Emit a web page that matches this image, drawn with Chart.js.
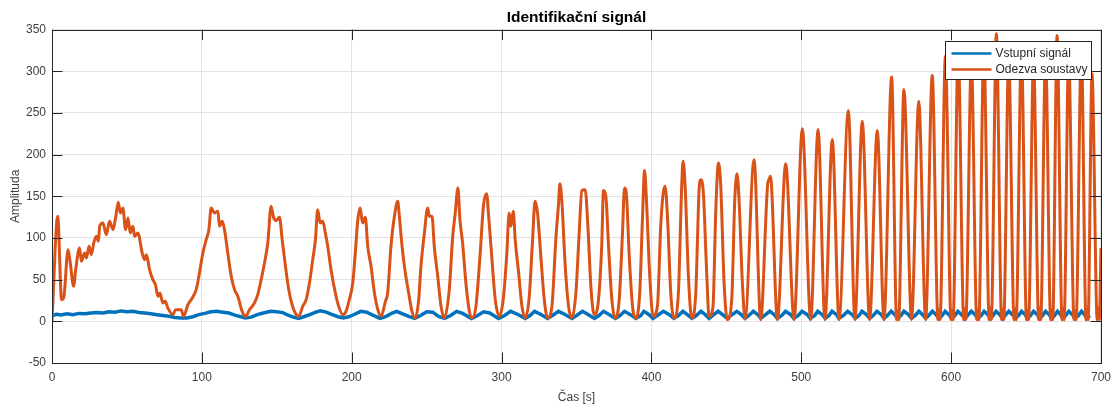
<!DOCTYPE html>
<html>
<head>
<meta charset="utf-8">
<title>Identifikační signál</title>
<script src="https://cdn.jsdelivr.net/npm/chart.js@4.4.1/dist/chart.umd.min.js"></script>
<style>
  html, body { margin: 0; padding: 0; background: #fff; }
  #wrap { width: 1118px; height: 407px; }
</style>
</head>
<body>
<div id="wrap"><canvas id="chart" width="1118" height="407"></canvas></div>
<script>
// values
const xTicks = [0, 100, 200, 300, 400, 500, 600, 700];
const yTicks = [-50, 0, 50, 100, 150, 200, 250, 300, 350];
const seriesNames = ["Vstupní signál", "Odezva soustavy"];

// input signal (blue)
const inputT = [0, 3, 6, 10, 14, 18, 22, 26, 30, 34, 38, 42, 46, 50, 54, 58, 62, 66, 70, 74, 78, 82, 86, 90, 94, 98,
  102, 106, 110, 114, 118, 122, 126, 129, 133, 137, 141, 146, 150, 154, 158, 161, 164.5, 168, 172, 176, 179, 183, 187, 191, 194.5, 198,
  202, 206, 210, 214, 219, 223, 227, 230, 234, 238, 242, 246, 250, 254, 258, 262, 266, 270, 274, 280, 284, 288, 292, 298,
  302, 306, 310, 315.8, 319, 322, 326, 330.7, 334, 338, 342, 347, 350, 354, 358, 362, 365, 368, 372, 376, 379, 382, 386, 389.6, 393, 395, 398.5,
  401, 404, 408, 412, 415, 418, 421, 424, 427, 430, 433, 436, 438.5, 441, 444.5, 447.5, 450.7, 453, 457, 460, 462.5, 465, 468, 471, 473, 475.5, 479, 482, 484, 487, 489.5, 493, 495, 498,
  500.5, 504, 506, 509, 511, 514, 516, 518.5, 520.5, 523.5, 525, 528, 531, 534, 536, 538.5, 540.5, 543.5, 545.6, 548, 550.5, 553.5, 555.2, 557.5, 560, 562.5, 564, 566.5, 568.5, 571.5, 573.6, 576, 578.5, 581, 583, 585, 587.5, 590, 591.8, 594, 596, 598.5,
  600.5, 602.5, 604.5, 607, 609, 611, 613.5, 616, 617.7, 620, 622, 624.5, 626, 628, 630, 632.5, 634.3, 636, 638.5, 641, 642.6, 645, 647, 649.5, 650.9, 653, 655, 657.5, 659, 661, 663, 665.5, 667, 669, 671, 673, 674.6, 676.5, 678.5, 681, 682.6, 685, 687, 689, 690.6, 692.5, 694, 696.5, 698, 700];
const inputY = [7, 8.5, 7.5, 9, 8, 9.5, 9, 10, 10.5, 10, 11.5, 11, 12.5, 11.5, 12, 10.5, 10, 9, 8, 7, 6, 4.5, 4, 4, 5.5, 8,
  9.5, 11.5, 12, 11, 10, 7.5, 5.5, 4, 5, 8, 10, 12, 11.5, 10.5, 7, 5, 3.5, 5.5, 8, 11, 12.5, 11, 8, 5.5, 4, 5.5,
  8.5, 12, 11, 7.5, 3.5, 6, 10, 12, 9, 6, 3.5, 7, 11.5, 11, 6, 3.5, 7, 12, 9.5, 3.5, 7, 11.5, 10, 3.5,
  7, 12, 9, 3.5, 7, 12, 8.5, 3.5, 7, 12, 8.5, 3.5, 7, 12, 8, 3.5, 7, 12, 8, 3.5, 7, 12, 8, 3.5, 7, 12, 8,
  3.5, 7, 12, 8, 3.5, 7, 12, 8, 3.5, 7, 12, 8, 3.5, 7, 12, 8, 3.5, 7, 12, 8, 3.5, 7, 12, 8, 3.5, 7, 12, 8, 3.5, 7, 12, 8, 3.5, 7,
  12, 8, 3.5, 7, 12, 8, 3.5, 7, 12, 8, 3.5, 7, 12, 8, 3.5, 7, 12, 8, 3.5, 7, 12, 8, 3.5, 7, 12, 8, 3.5, 7, 12, 8, 3.5, 7, 12, 8, 3.5, 7, 12, 8,
  3.5, 7, 12, 8, 3.5, 7, 12, 8, 3.5, 7, 12, 8, 3.5, 7, 12, 8, 3.5, 7, 12, 8, 3.5, 7, 12, 8, 3.5, 7, 12, 8, 3.5, 7, 12, 8, 3.5, 7, 12, 8, 3.5, 7, 12, 8, 3.5, 7, 12, 8, 3.5, 7, 12, 8, 3.5, 7];

// system response (orange)
const responseT = [0, 3.8, 6.4, 7.8, 10.7, 12.2, 14.4, 15.8, 18.4, 19.6, 21.8, 23, 24.7, 26.2, 28, 29.6, 31, 31.8, 34, 36.2, 38.4, 40.7, 42.5, 44.2, 45.6, 47.3, 49.1, 50.7, 52.2, 54, 55.1, 57.3,
  60.2, 61.8, 63, 65.1, 67.3, 69, 70.7, 72, 74, 75.5, 77.3, 80.7, 82.4, 84.5, 86.2, 87.8, 90.7, 93.6, 96.2, 98,
  100.7, 102.9, 104.7, 106.2, 108.4, 110.7, 111.8, 113.6, 115.1, 117.3, 119.6, 121.8, 124, 126.9, 129.1, 131.8, 135.1, 137.3, 139.6, 141.8, 144, 146.2, 147.8, 149.6,
  151.8, 153.6, 155.8, 158, 160.2, 162.9, 164.7, 167.3, 169.6, 171.8, 174, 175.8, 177.3, 178.9, 180.7, 182.4, 184, 186.2, 189.1, 191.3, 194, 196.2, 198.4,
  200.7, 202.4, 204, 205.6, 207.3, 209.1, 210.7, 212.9, 215, 217.4, 219.6, 222.5, 224, 226.2, 228.5, 230.7, 231.8, 233.6, 235.8, 238, 240.2, 242.5, 244.7, 246.2, 248.5,
  250.7, 251.8, 253.6, 255.1, 257.4, 259.6, 261.8, 265.1, 267.4, 269.1, 270.9, 272.2, 274, 276.2, 278.5, 280.2, 282.9, 285.6, 288, 290, 291.4, 293.6, 295.8, 298.5,
  301.1, 303.4, 305.1, 306.2, 307.8, 309.1, 311.4, 313.6, 315.8, 318.5, 320.7, 322.3, 324, 326.2, 328.5, 330.7, 333.6, 336.2, 338, 338.9, 340.2, 342.5, 344.7, 346.9, 349.6,
  351.8, 353.6, 355.8, 357.6, 359.6, 361.8, 364.7, 366.9, 368, 369.6, 371.4, 373.6, 375.8, 378.5, 380.7, 382, 383.4, 385.1, 387.4, 389.6, 392.2, 394, 395.4, 396.7, 398.9,
  401.1, 404, 406.2, 407.8, 409.1, 410.7, 412.9, 415.1, 418, 420.2, 421.1, 422.5, 424.7, 426.9, 429.6, 431.8, 432.9, 434.7, 436.7, 438.5, 441.1, 442.9, 444.7, 446.2, 448.5,
  450.7, 453.6, 455.6, 457.1, 458.5, 460.7, 462.5, 468.5, 472.9, 477.6, 478.4, 479.4, 484.1, 489.6, 495.2,
  500.7, 506.3, 511.2, 515.8, 520.7, 525.2, 531.4, 535.8, 540.7, 545.6, 550.7, 555.2, 560.3, 563.6, 564.3, 565, 568.5, 573.6, 578.4, 583, 587.4, 591.2, 591.9, 592.6, 596.2,
  599.9, 600.6, 601.3, 604.7, 608.4, 609.1, 609.8, 613.5, 617.1, 617.8, 618.5, 621.8, 625.4, 626.1, 626.8, 630.2, 633.7, 634.4, 635.1, 638.4, 642, 642.7, 643.4, 646.9,
  650.3, 651, 651.7, 655, 658.4, 659.1, 659.8, 663, 666.4, 667.1, 667.8, 670.7, 674, 674.7, 675.4, 678.4, 682, 682.7, 683.4, 686.9, 690, 690.7, 691.4, 694, 697.5, 698.2, 698.9, 700];
const responseY = [0, 126, 26, 28, 86, 70, 42, 62, 88, 72, 82, 76, 90, 80, 95, 102, 96, 114, 118, 104, 120, 110, 125, 143, 130, 136, 110, 124, 106, 114, 102, 106,
  82, 74, 80, 62, 50, 44, 30, 34, 22, 24, 16, 8, 14, 14, 14, 6, 20, 28, 38, 54,
  82, 98, 110, 136, 130, 132, 114, 120, 110, 82, 54, 38, 30, 12, 6, 14, 22, 32, 50, 70, 94, 138, 125, 121,
  125, 98, 66, 38, 20, 8, 6, 18, 26, 46, 74, 98, 134, 118, 120, 106, 90, 62, 34, 18, 8, 12, 26,
  46, 82, 121, 136, 118, 125, 90, 66, 36, 14, 6, 24, 34, 90, 126, 144, 126, 90, 58, 34, 12, 4, 26, 66, 106,
  136, 126, 126, 90, 54, 18, 4, 38, 102, 130, 160, 122, 94, 46, 12, 4, 18, 78, 140, 153, 126, 74, 26, 6,
  26, 78, 130, 114, 132, 98, 58, 18, 4, 30, 98, 144, 130, 78, 26, 4, 18, 98, 141, 165, 145, 66, 18, 4, 34,
  106, 157, 158, 114, 42, 8, 26, 94, 157, 150, 90, 26, 4, 26, 106, 160, 150, 82, 18, 4, 34, 122, 181, 145, 54,
  6, 18, 114, 153, 162, 126, 34, 4, 34, 162, 192, 162, 54, 4, 34, 157, 170, 153, 66, 6, 18, 130, 190, 165, 46,
  2, 26, 145, 177, 145, 46, 3, 194, 2, 165, 170, 174, 2, 189, 2,
  231, 2, 230, 2, 218, 2, 253, 2, 240, 2, 229, 2, 293, 2, 12, 2, 278, 2, 264, 2, 295, 2, 14, 2, 318,
  2, 12, 2, 325, 2, 15, 2, 312, 2, 13, 2, 330, 2, 16, 2, 345, 2, 14, 2, 316, 2, 15, 2, 326,
  2, 13, 2, 314, 2, 16, 2, 322, 2, 14, 2, 343, 2, 15, 2, 320, 2, 13, 2, 327, 2, 14, 2, 297, 2, 16, 2, 88];

const toPoints = (ts, vs) => ts.map((t, i) => ({ x: t, y: vs[i] }));

const axisColor = "#262626";
const labelColor = "#404040";
const gridColor = "#e2e2e2";
const fontFamily = "Arial, 'Liberation Sans', Helvetica, sans-serif";

// MATLAB style frame: box, inward ticks on all four sides and a framed legend
const matlabFrame = {
  id: "matlabFrame",
  afterDatasetsDraw(chart) {
    const { ctx, chartArea: a, scales } = chart;
    const len = 10.5;
    ctx.save();
    ctx.strokeStyle = axisColor;
    ctx.lineWidth = 1;
    ctx.beginPath();
    scales.x.ticks.forEach((t) => {
      const px = Math.round(scales.x.getPixelForValue(t.value)) + 0.5;
      ctx.moveTo(px, a.bottom); ctx.lineTo(px, a.bottom - len);
      ctx.moveTo(px, a.top); ctx.lineTo(px, a.top + len);
    });
    scales.y.ticks.forEach((t) => {
      const py = Math.round(scales.y.getPixelForValue(t.value)) + 0.5;
      ctx.moveTo(a.left, py); ctx.lineTo(a.left + len, py);
      ctx.moveTo(a.right, py); ctx.lineTo(a.right - len, py);
    });
    ctx.stroke();
    ctx.strokeRect(Math.round(a.left) + 0.5, Math.round(a.top) + 0.5,
      Math.round(a.right - a.left), Math.round(a.bottom - a.top));

    // legend
    const bx = 945.5, by = 41.5, bw = 146, bh = 38;
    ctx.fillStyle = "#fff";
    ctx.fillRect(bx, by, bw, bh);
    ctx.strokeRect(bx, by, bw, bh);
    ctx.font = "12px " + fontFamily;
    ctx.textBaseline = "middle";
    ctx.textAlign = "left";
    chart.data.datasets.forEach((ds, i) => {
      const ry = by + 12 + i * 16;
      ctx.strokeStyle = ds.borderColor;
      ctx.lineWidth = 2.5;
      ctx.beginPath();
      ctx.moveTo(bx + 6, ry); ctx.lineTo(bx + 46, ry);
      ctx.stroke();
      ctx.fillStyle = axisColor;
      ctx.fillText(ds.label, bx + 50, ry);
    });
    ctx.restore();
  }
};

new Chart(document.getElementById("chart"), {
  type: "line",
  data: {
    datasets: [
      {
        label: seriesNames[0],
        data: toPoints(inputT, inputY),
        borderColor: "#0072BD",
        borderWidth: 3.5,
        pointRadius: 0,
        tension: 0,
        order: 2
      },
      {
        label: seriesNames[1],
        data: toPoints(responseT, responseY),
        borderColor: "#D95319",
        borderWidth: 3,
        pointRadius: 0,
        cubicInterpolationMode: "monotone",
        order: 1
      }
    ]
  },
  options: {
    responsive: false,
    animation: false,
    devicePixelRatio: 1,
    layout: { padding: { left: 0, right: 15.5, top: 0, bottom: 0 } },
    plugins: {
      legend: { display: false },
      tooltip: { enabled: false },
      title: {
        display: true,
        fullSize: false,
        text: "Identifikační signál",
        color: "#000",
        font: { family: fontFamily, size: 15.5, weight: "bold" },
        padding: { top: 8, bottom: 3 }
      }
    },
    scales: {
      x: {
        type: "linear",
        min: xTicks[0],
        max: xTicks[xTicks.length - 1],
        afterBuildTicks: (s) => { s.ticks = xTicks.map((v) => ({ value: v })); },
        afterFit: (s) => { s.height = 44; },
        ticks: { color: labelColor, font: { family: fontFamily, size: 12 }, padding: 7, maxRotation: 0 },
        grid: { color: gridColor, drawTicks: false },
        border: { display: false },
        title: { display: true, text: "Čas [s]", color: labelColor, font: { family: fontFamily, size: 12 }, padding: { top: 0, bottom: 2 } }
      },
      y: {
        type: "linear",
        min: yTicks[0],
        max: yTicks[yTicks.length - 1],
        afterBuildTicks: (s) => { s.ticks = yTicks.map((v) => ({ value: v })); },
        afterFit: (s) => { s.width = 52; },
        ticks: { color: labelColor, font: { family: fontFamily, size: 12 }, padding: 6 },
        grid: { color: gridColor, drawTicks: false },
        border: { display: false },
        title: { display: true, text: "Amplituda", color: labelColor, font: { family: fontFamily, size: 12 }, padding: { top: 8, bottom: 0 } }
      }
    }
  },
  plugins: [matlabFrame]
});
</script>
</body>
</html>
